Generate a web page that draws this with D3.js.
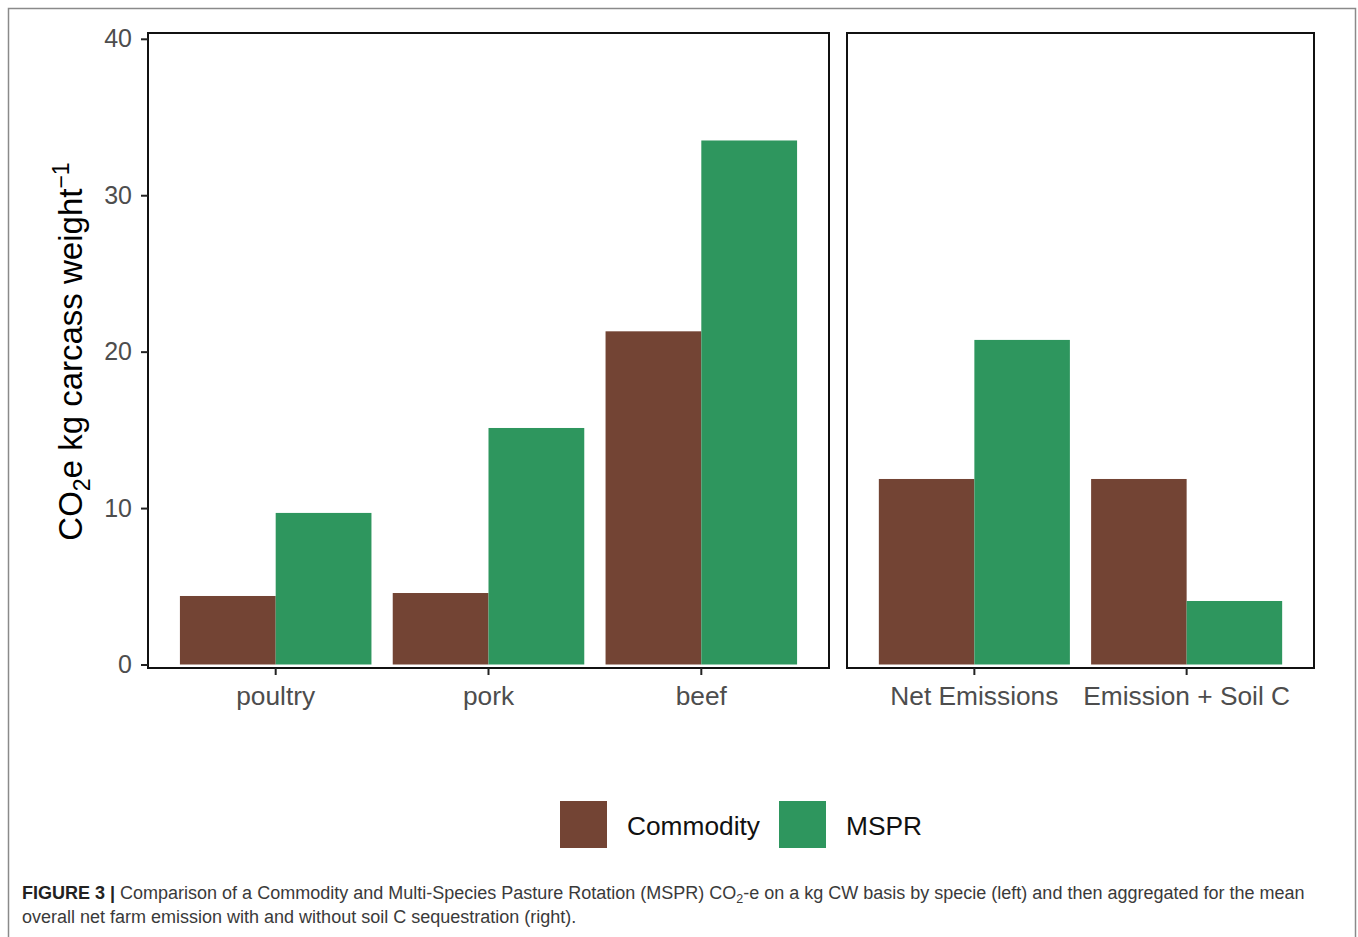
<!DOCTYPE html>
<html>
<head>
<meta charset="utf-8">
<script src="https://cdn.jsdelivr.net/npm/d3@7"></script>
<style>
  html, body { margin: 0; padding: 0; background: #fff; }
  svg { display: block; font-family: "Liberation Sans", Arial, Helvetica, sans-serif; }
</style>
</head>
<body>
<svg id="chart" width="1358" height="937"></svg>
<script>
// ---- data ----
const leftCategories = ["poultry", "pork", "beef"];
const rightCategories = ["Net Emissions", "Emission + Soil C"];
const seriesNames = ["Commodity", "MSPR"];
const commodityLeft = [4.38, 4.57, 21.3];
const msprLeft = [9.69, 15.12, 33.5];
const commodityRight = [11.86, 11.86];
const msprRight = [20.75, 4.06];
const yTicks = [0, 10, 20, 30, 40];

// ---- styles ----
const colors = { "Commodity": "#734434", "MSPR": "#2e965e" };
const svg = d3.select("#chart");
svg.append("rect").attr("width", 1358).attr("height", 937).attr("fill", "#fff");

// outer figure frame
svg.append("path")
  .attr("d", "M8.5,937 V8.5 H1355.5 V937")
  .attr("fill", "none").attr("stroke", "#8a8a8a").attr("stroke-width", 1.5);

const panelTop = 33, panelBottom = 668;
const y = d3.scaleLinear().domain([0, 40]).range([664.5, 38.8]);

function panel(x0, x1, cats, commodity, mspr, drawYAxis) {
  const x = d3.scaleBand().domain(cats).range([x0, x1])
    .paddingInner(0.1).paddingOuter(0.15);
  const xs = d3.scaleBand().domain(seriesNames).range([0, x.bandwidth()]);
  const g = svg.append("g");
  const rows = cats.map((c, i) => ({ cat: c, vals: [
    { s: "Commodity", v: commodity[i] }, { s: "MSPR", v: mspr[i] }] }));
  const grp = g.selectAll("g.cat").data(rows).join("g")
    .attr("transform", d => `translate(${x(d.cat)},0)`);
  grp.selectAll("rect").data(d => d.vals).join("rect")
    .attr("x", d => xs(d.s))
    .attr("width", xs.bandwidth())
    .attr("y", d => y(d.v))
    .attr("height", d => y(0) - y(d.v))
    .attr("fill", d => colors[d.s]);

  // panel border
  g.append("rect").attr("x", x0).attr("y", panelTop)
    .attr("width", x1 - x0).attr("height", panelBottom - panelTop)
    .attr("fill", "none").attr("stroke", "#111").attr("stroke-width", 2);

  // x axis
  const xa = g.append("g").attr("transform", `translate(0,${panelBottom})`)
    .call(d3.axisBottom(x).tickSize(7).tickSizeOuter(0).tickPadding(6));
  xa.select(".domain").remove();
  xa.selectAll(".tick line").attr("stroke", "#222").attr("stroke-width", 2);
  xa.selectAll(".tick text").attr("font-size", 26.3).attr("fill", "#4d4d4d")
    .attr("font-family", "Liberation Sans, Arial, sans-serif")
    .attr("dy", "0.92em");

  if (drawYAxis) {
    const ya = g.append("g").attr("transform", `translate(${x0},0)`)
      .call(d3.axisLeft(y).tickValues(yTicks).tickSize(7).tickPadding(9));
    ya.select(".domain").remove();
    ya.selectAll(".tick line").attr("stroke", "#222").attr("stroke-width", 2);
    ya.selectAll(".tick text").attr("font-size", 25).attr("fill", "#4d4d4d")
      .attr("font-family", "Liberation Sans, Arial, sans-serif");
  }
}

panel(148, 829, leftCategories, commodityLeft, msprLeft, true);
panel(847, 1314, rightCategories, commodityRight, msprRight, false);

// y axis title
const yt = svg.append("text")
  .attr("transform", `translate(82,${(panelTop + panelBottom) / 2 + 1}) rotate(-90)`)
  .attr("text-anchor", "middle")
  .attr("font-size", 33).attr("fill", "#000");
yt.append("tspan").text("CO");
yt.append("tspan").text("2").attr("font-size", 23).attr("dy", 8);
yt.append("tspan").text("e kg carcass weight").attr("dy", -8);
yt.append("tspan").text("\u22121").attr("font-size", 23).attr("dy", -13);

// legend
const legendItems = [
  { s: "Commodity", x: 560 },
  { s: "MSPR", x: 779 }
];
const lg = svg.append("g");
lg.selectAll("rect").data(legendItems).join("rect")
  .attr("x", d => d.x).attr("y", 801).attr("width", 47).attr("height", 47)
  .attr("fill", d => colors[d.s]);
lg.selectAll("text").data(legendItems).join("text")
  .attr("x", d => d.x + 67).attr("y", 835)
  .attr("font-size", 26.3).attr("fill", "#111")
  .text(d => d.s);

// caption
const cap1 = svg.append("text").attr("x", 22).attr("y", 899)
  .attr("font-size", 18).attr("fill", "#3a3a3a");
cap1.append("tspan").text("FIGURE 3 |").attr("font-weight", "bold").attr("fill", "#222");
cap1.append("tspan").text(" Comparison of a Commodity and Multi-Species Pasture Rotation (MSPR) CO");
cap1.append("tspan").text("2").attr("font-size", 12.5).attr("dy", 4);
cap1.append("tspan").text("-e on a kg CW basis by specie (left) and then aggregated for the mean").attr("dy", -4);
svg.append("text").attr("x", 22).attr("y", 923)
  .attr("font-size", 18).attr("fill", "#3a3a3a")
  .text("overall net farm emission with and without soil C sequestration (right).");
</script>
</body>
</html>
